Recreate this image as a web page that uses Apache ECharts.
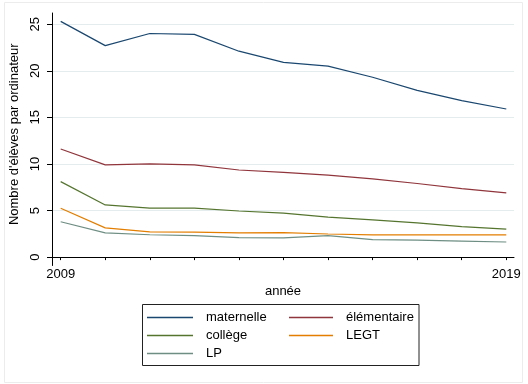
<!DOCTYPE html>
<html>
<head>
<meta charset="utf-8">
<script src="https://cdn.jsdelivr.net/npm/echarts@6/dist/echarts.min.js"></script>
<style>html,body{margin:0;padding:0;background:#fff}#c{width:528px;height:384px}</style>
</head>
<body>
<div id="c"></div>
<script>
const years = [2009, 2010, 2011, 2012, 2013, 2014, 2015, 2016, 2017, 2018, 2019];
const maternelle = [25.3, 22.7, 24.0, 23.9, 22.1, 20.9, 20.5, 19.3, 17.9, 16.8, 15.9];
const elementaire = [11.6, 9.9, 10.0, 9.9, 9.35, 9.1, 8.8, 8.4, 7.9, 7.35, 6.9];
const college = [8.1, 5.6, 5.25, 5.25, 4.95, 4.72, 4.3, 4.0, 3.68, 3.28, 3.0];
const legt = [5.25, 3.14, 2.7, 2.68, 2.6, 2.62, 2.48, 2.38, 2.38, 2.38, 2.38];
const lp = [3.8, 2.6, 2.4, 2.3, 2.1, 2.07, 2.3, 1.88, 1.82, 1.72, 1.62];
const yTicks = [0, 5, 10, 15, 20, 25];
const xLabels = [2009, 2019];

const FONT = 'Liberation Sans, Arial, sans-serif';
const pairs = arr => years.map((y, i) => [y, arr[i]]);
const mk = (name, arr, color) => ({
  name, type: 'line', data: pairs(arr), symbol: 'none', showSymbol: false,
  lineStyle: { color, width: 1.2 }, itemStyle: { color }, animation: false, silent: true
});
const legendBase = {
  orient: 'vertical', top: 311, padding: 0, icon: 'rect',
  itemWidth: 46, itemHeight: 1.3, itemGap: 5,
  textStyle: { color: '#000', fontSize: 13, fontFamily: FONT, padding: [0, 0, 0, 8] },
  selectedMode: false
};

const chart = echarts.init(document.getElementById('c'), null, { renderer: 'canvas' });
chart.setOption({
  backgroundColor: '#fff',
  animation: false,
  textStyle: { fontFamily: FONT },
  grid: { left: 52, right: 14, top: 13, bottom: 118.5, containLabel: false },
  xAxis: {
    type: 'value', min: 2008.805, max: 2019.173,
    name: 'année', nameLocation: 'middle', nameGap: 15,
    nameTextStyle: { color: '#000', fontSize: 13, fontFamily: FONT },
    axisLine: { show: true, lineStyle: { color: '#000', width: 1 } },
    axisTick: { show: true, length: 3, customValues: years, lineStyle: { color: '#000' } },
    axisLabel: { customValues: xLabels, margin: 2, color: '#000', fontSize: 13, fontFamily: FONT, formatter: v => String(v) },
    splitLine: { show: false }
  },
  yAxis: {
    type: 'value', min: -0.9, max: 26.2,
    name: "Nombre d'élèves par ordinateur", nameLocation: 'middle', nameGap: 22,
    nameTextStyle: { color: '#000', fontSize: 13, fontFamily: FONT, padding: [0, 0, 0, 10] },
    axisLine: { show: true, lineStyle: { color: '#000', width: 1 } },
    axisTick: { show: true, length: 5, customValues: yTicks, lineStyle: { color: '#000' } },
    axisLabel: { customValues: yTicks, rotate: 90, margin: 10, color: '#000', fontSize: 13, fontFamily: FONT },
    splitLine: { show: true, lineStyle: { color: '#e4ecee', width: 1 } }
  },
  legend: [
    Object.assign({}, legendBase, { left: 147, data: ['maternelle', 'collège', 'LP'] }),
    Object.assign({}, legendBase, { left: 289, itemWidth: 44, data: ['élémentaire', 'LEGT'] })
  ],
  graphic: [
    { type: 'rect', shape: { x: 4.5, y: 2.5, width: 518, height: 380 }, style: { fill: 'none', stroke: '#ececec', lineWidth: 1 }, silent: true, z: -1 },
    { type: 'rect', shape: { x: 142.5, y: 304.5, width: 276.5, height: 61 }, style: { fill: 'none', stroke: '#222', lineWidth: 1 }, silent: true }
  ],
  series: [
    mk('maternelle', maternelle, '#1a476f'),
    mk('élémentaire', elementaire, '#90353b'),
    mk('collège', college, '#55752f'),
    mk('LEGT', legt, '#e37e00'),
    mk('LP', lp, '#6e8e84')
  ]
});
</script>
</body>
</html>
